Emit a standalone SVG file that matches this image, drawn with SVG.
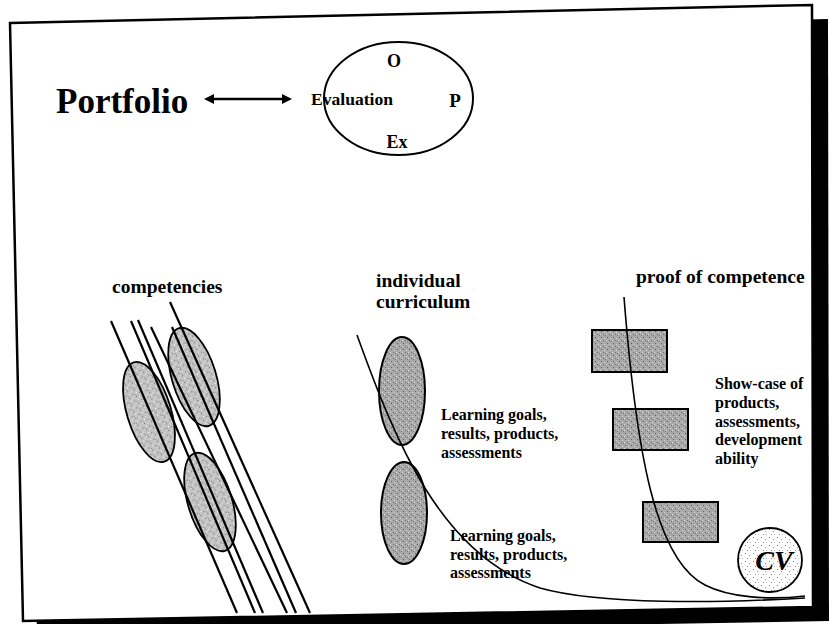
<svg xmlns="http://www.w3.org/2000/svg" width="830" height="624" viewBox="0 0 830 624">
<style>
.t{font-family:"Liberation Serif","Times New Roman",serif;font-weight:bold;fill:#000}
.h{font-size:19.5px}
.s{font-size:16px}
.ln{stroke:#000;stroke-width:2.2;fill:none}
.cv{stroke:#000;stroke-width:1.6;fill:none}
</style>
<defs>
<pattern id="stipA" width="7" height="7" patternUnits="userSpaceOnUse">
<rect width="7" height="7" fill="#c2c2c2"/>
<rect x="1" y="1" width="1" height="1" fill="#6e6e6e"/>
<rect x="4" y="2" width="1" height="1" fill="#eeeeee"/>
<rect x="5" y="5" width="1" height="1" fill="#7a7a7a"/>
<rect x="2" y="4" width="1" height="1" fill="#ffffff"/>
<rect x="0" y="6" width="1" height="1" fill="#8a8a8a"/>
<rect x="6" y="0" width="1" height="1" fill="#e8e8e8"/>
</pattern>
<pattern id="stipB" width="6" height="6" patternUnits="userSpaceOnUse">
<rect width="6" height="6" fill="#a9a9a9"/>
<rect x="1" y="1" width="1" height="1" fill="#5e5e5e"/>
<rect x="4" y="2" width="1" height="1" fill="#d6d6d6"/>
<rect x="3" y="4" width="1" height="1" fill="#6a6a6a"/>
<rect x="0" y="4" width="1" height="1" fill="#dcdcdc"/>
<rect x="5" y="5" width="1" height="1" fill="#777"/>
</pattern>
<pattern id="stipC" width="8" height="8" patternUnits="userSpaceOnUse">
<rect width="8" height="8" fill="#ffffff"/>
<rect x="1" y="1" width="1" height="1" fill="#777"/>
<rect x="5" y="3" width="1" height="1" fill="#999"/>
<rect x="3" y="6" width="1" height="1" fill="#888"/>
<rect x="6" y="6" width="1" height="1" fill="#bbb"/>
</pattern>
</defs>
<rect width="830" height="624" fill="#fff"/>
<g id="frame">
<polygon points="24,37 828,19 829,621 37,635" fill="#000"/>
<polygon points="10,23 812,5 813,607 23,621" fill="#fff" stroke="#000" stroke-width="2.5"/>
</g>
<g id="portfolio">
<text class="t" x="56" y="113" font-size="35">Portfolio</text>
</g>
<g id="evaluation">
<ellipse cx="398.5" cy="98.5" rx="74.5" ry="56.5" fill="none" stroke="#000" stroke-width="2"/>
<text class="t" x="311" y="105" font-size="16" textLength="82" lengthAdjust="spacingAndGlyphs">Evaluation</text>
<text class="t" x="394" y="67" font-size="18" text-anchor="middle">O</text>
<text class="t" x="455" y="107" font-size="19" text-anchor="middle">P</text>
<text class="t" x="397" y="148" font-size="18" text-anchor="middle">Ex</text>
</g>
<g id="connectors">
<line x1="212" y1="99" x2="284" y2="99" stroke="#000" stroke-width="2.5"/>
<polygon points="204,99 214,94 214,104" fill="#000"/>
<polygon points="292,99 282,94 282,104" fill="#000"/>
</g>
<g id="competencies">
<text class="t h" x="112" y="293">competencies</text>
<ellipse cx="149" cy="412" rx="22" ry="52" transform="rotate(-17 149 412)" fill="url(#stipA)" stroke="#000" stroke-width="1.8"/>
<ellipse cx="194" cy="377" rx="22" ry="51" transform="rotate(-17 194 377)" fill="url(#stipA)" stroke="#000" stroke-width="1.8"/>
<ellipse cx="210" cy="502" rx="22" ry="51" transform="rotate(-17 210 502)" fill="url(#stipA)" stroke="#000" stroke-width="1.8"/>
<line class="ln" x1="111" y1="321" x2="237" y2="613"/>
<line class="ln" x1="131" y1="321" x2="255" y2="613"/>
<line class="ln" x1="138" y1="320" x2="263" y2="613"/>
<line class="ln" x1="151" y1="327" x2="287" y2="613"/>
<line class="ln" x1="170" y1="302" x2="310" y2="613"/>
<line class="ln" x1="172" y1="327" x2="296" y2="613"/>
</g>
<g id="curriculum">
<text class="t h" x="376" y="287">individual</text>
<text class="t h" x="376" y="308">curriculum</text>
<ellipse cx="402" cy="391" rx="23" ry="54" fill="url(#stipB)" stroke="#000" stroke-width="2"/>
<ellipse cx="404" cy="513" rx="23" ry="51" fill="url(#stipB)" stroke="#000" stroke-width="2"/>
<path class="cv" d="M357,335 C395,440 440,555 540,588 C600,605 720,603 805,598"/>
<text class="t s" x="441" y="420">Learning goals,</text>
<text class="t s" x="441" y="439">results, products,</text>
<text class="t s" x="441" y="458">assessments</text>
<text class="t s" x="450" y="541">Learning goals,</text>
<text class="t s" x="450" y="560">results, products,</text>
<text class="t s" x="450" y="578">assessments</text>
</g>
<g id="proof">
<text class="t h" x="636" y="283">proof of competence</text>
<rect x="592" y="330" width="75" height="42" fill="url(#stipB)" stroke="#000" stroke-width="2"/>
<rect x="613" y="409" width="75" height="41" fill="url(#stipB)" stroke="#000" stroke-width="2"/>
<rect x="643" y="502" width="75" height="40" fill="url(#stipB)" stroke="#000" stroke-width="2"/>
<path class="cv" d="M624,297 C636,450 655,560 705,585 C730,598 770,600 805,596"/>
<text class="t s" x="715" y="389">Show-case of</text>
<text class="t s" x="715" y="408">products,</text>
<text class="t s" x="715" y="427">assessments,</text>
<text class="t s" x="715" y="445">development</text>
<text class="t s" x="715" y="464">ability</text>
<g id="cv">
<circle cx="770" cy="560" r="32" fill="url(#stipC)" stroke="#000" stroke-width="1.8"/>
<text class="t" x="774" y="570" font-size="28" font-style="italic" text-anchor="middle">CV</text>
</g>
</g>
</svg>
